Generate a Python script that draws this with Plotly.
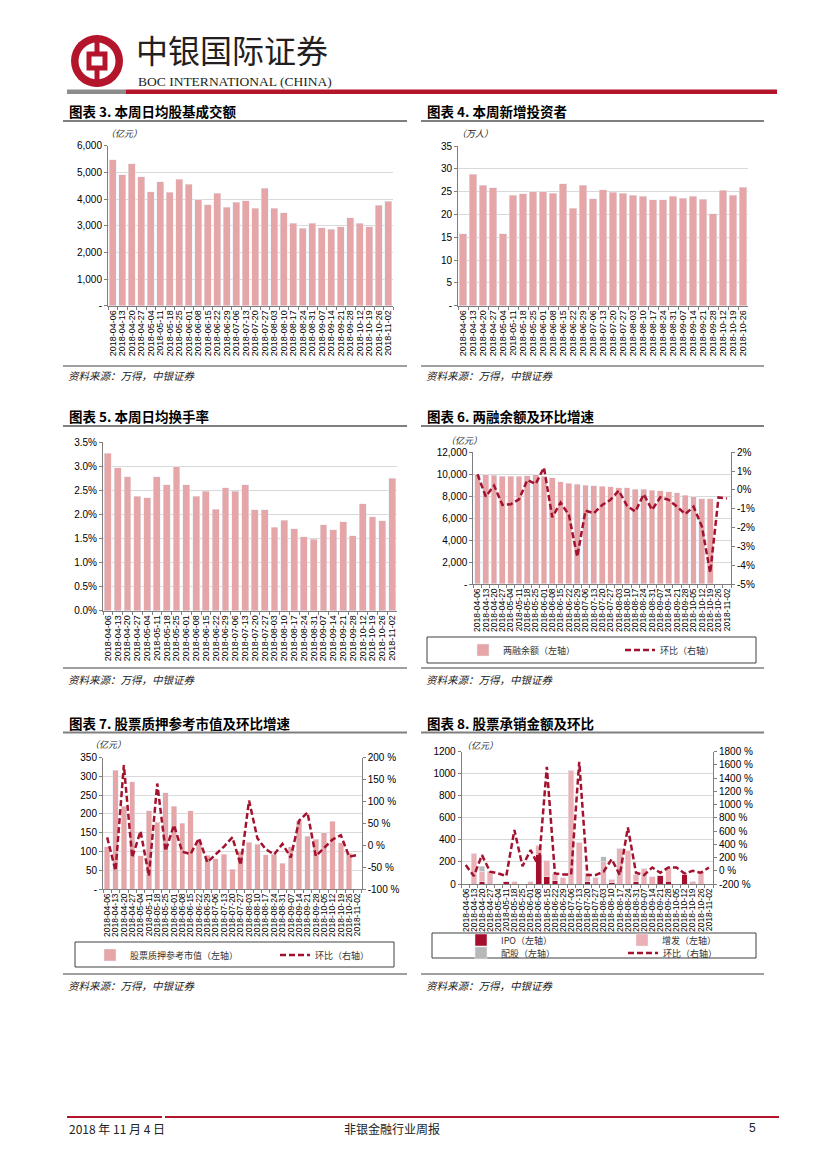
import plotly.graph_objects as go

OFF = 8  # page body margin of the browser
W, H = 827 - OFF, 1169 - OFF
def X(p): return (p - OFF) / W
def Y(p): return 1 - (p - OFF) / H

PINK = '#E6A6A8'
RED = '#A3122F'
IPO_C = '#A50F2D'
SEO_C = '#EBB1B4'
RIGHTS_C = '#B8B8B8'
GRID = '#D9D9D9'
AXIS = '#7F7F7F'
NUM = 'Liberation Sans, Arial, sans-serif'
CJK = 'Noto Sans CJK SC, sans-serif'

# ---------------- data ----------------
dates_30 = ['2018-04-06', '2018-04-13', '2018-04-20', '2018-04-27', '2018-05-04', '2018-05-11',
            '2018-05-18', '2018-05-25', '2018-06-01', '2018-06-08', '2018-06-15', '2018-06-22',
            '2018-06-29', '2018-07-06', '2018-07-13', '2018-07-20', '2018-07-27', '2018-08-03',
            '2018-08-10', '2018-08-17', '2018-08-24', '2018-08-31', '2018-09-07', '2018-09-14',
            '2018-09-21', '2018-09-28', '2018-10-12', '2018-10-19', '2018-10-26', '2018-11-02']
dates_29 = dates_30[:-1]
dates_31 = dates_30[:26] + ['2018-10-05'] + dates_30[26:]

# chart 3: daily avg turnover (亿元)
turnover_amt = [5480, 4920, 5320, 4830, 4280, 4650, 4250, 4750, 4560, 3980, 3790, 4220, 3700, 3880, 3940,
                3650, 4400, 3650, 3480, 3100, 2900, 3100, 2930, 2860, 2960, 3300, 3100, 2970, 3760, 3920]
# chart 4: new investors (万人)
new_investors = [15.8, 28.8, 26.4, 25.8, 15.8, 24.2, 24.5, 25.0, 25.0, 24.7, 26.7, 21.4, 26.4, 23.4, 25.4,
                 24.9, 24.7, 24.2, 24.0, 23.2, 23.2, 24.0, 23.6, 24.0, 23.3, 20.1, 25.3, 24.2, 26.0]
# chart 5: turnover rate (%)
turnover_rate = [3.27, 2.97, 2.78, 2.37, 2.34, 2.78, 2.61, 2.99, 2.61, 2.37, 2.48, 2.11, 2.55, 2.48, 2.61,
                 2.09, 2.09, 1.73, 1.88, 1.70, 1.53, 1.48, 1.78, 1.68, 1.85, 1.56, 2.22, 1.95, 1.87, 2.75]
# chart 6: margin balance (亿元) and qoq (%)
margin_bal = [9950, 9960, 9900, 9820, 9820, 9800, 9850, 9950, 9820, 9700, 9330, 9200, 9070, 9000, 8940,
              8900, 8850, 8790, 8790, 8640, 8640, 8560, 8480, 8400, 8330, 8100, 7950, 7760, 7760, None, None]
margin_qoq = [0.83, -0.35, 0.23, -0.8, -0.76, -0.5, 0.53, 0.32, 1.19, -1.45, -0.67, -1.33, -3.55, -1.1, -1.24,
              -0.8, -0.53, -0.04, -0.85, -1.15, -0.23, -1.06, -0.39, -0.53, -0.89, -1.28, -0.89, -1.95, -4.4,
              -0.4, -0.45]
# chart 7: pledge reference value (亿元) and qoq (%)
pledge_val = [112, 317, 221, 286, 88, 208, 178, 257, 221, 175, 208, 130, 90, 80, 92, 53, 100, 125, 119, 91,
              93, 68, 113, 182, 141, 133, 150, 180, 123, 95, None]
pledge_qoq = [18, -58, 183, -28, 32, -70, 141, -13, 46, -15, -20, 16, -39, -21, -3, 18, -45, 102, 16, -9,
              -21, 3, -28, 56, 75, -25, -7, 13, 23, -26, -22]
# chart 8: underwriting (亿元) and qoq (%)
uw_ipo = [0, 5, 20, 5, 0, 27, 0, 0, 0, 269, 66, 30, 0, 5, 5, 20, 0, 0, 12, 0, 0, 20, 0, 0, 78, 27, 0, 82, 0, 0, 0]
uw_seo = [0, 273, 95, 107, 0, 0, 24, 0, 20, 84, 151, 67, 57, 1028, 373, 77, 60, 200, 30, 323, 302, 70, 145,
          66, 0, 124, 0, 21, 27, 103, 0]
uw_rights = [0, 0, 45, 0, 0, 0, 0, 0, 0, 0, 0, 0, 0, 0, 0, 0, 0, 48, 0, 0, 0, 0, 0, 0, 0, 0, 0, 0, 0, 0, 0]
uw_qoq = [86, -80, 237, -15, -40, -80, 615, 70, 312, 70, 1572, -40, -55, -55, 1648, -65, -65, -15, 176, -65,
          655, -30, -65, 50, -30, 50, 50, -40, 0, -30, 50]

# ticks
t3_vals = [0, 1000, 2000, 3000, 4000, 5000, 6000]
t3_text = ['-', '1,000', '2,000', '3,000', '4,000', '5,000', '6,000']
t4_vals = [0, 5, 10, 15, 20, 25, 30, 35]
t4_text = ['-', '5', '10', '15', '20', '25', '30', '35']
t5_vals = [0, 0.5, 1, 1.5, 2, 2.5, 3, 3.5]
t5_text = ['0.0%', '0.5%', '1.0%', '1.5%', '2.0%', '2.5%', '3.0%', '3.5%']
t6_vals = [0, 2000, 4000, 6000, 8000, 10000, 12000]
t6_text = ['-', '2,000', '4,000', '6,000', '8,000', '10,000', '12,000']
t6r_vals = [-5, -4, -3, -2, -1, 0, 1, 2]
t6r_text = ['-5%', '-4%', '-3%', '-2%', '-1%', '0%', '1%', '2%']
t7_vals = [0, 50, 100, 150, 200, 250, 300, 350]
t7_text = ['-', '50', '100', '150', '200', '250', '300', '350']
t7r_vals = [-100, -50, 0, 50, 100, 150, 200]
t7r_text = ['-100 %', '-50 %', '0 %', '50 %', '100 %', '150 %', '200 %']
t8_vals = [0, 200, 400, 600, 800, 1000, 1200]
t8_text = ['0', '200', '400', '600', '800', '1000', '1200']
t8r_vals = [-200, 0, 200, 400, 600, 800, 1000, 1200, 1400, 1600, 1800]
t8r_text = ['-200 %', '0 %', '200 %', '400 %', '600 %', '800 %', '1000 %', '1200 %', '1400 %', '1600 %', '1800 %']

fig = go.Figure()
layout = {}


def xaxis(name, x0, x1, anchor, cats, fs=9):
    layout[name] = dict(domain=[X(x0), X(x1)], anchor=anchor, type='category',
                        tickmode='array', tickvals=cats, ticktext=cats, tickangle=-90,
                        tickfont=dict(family=NUM, size=fs, color='#000'),
                        showline=True, linecolor=AXIS, linewidth=1, ticks='outside', ticklen=3,
                        tickcolor=AXIS, tickson='boundaries', showgrid=False, zeroline=False,
                        range=[-0.5, len(cats) - 0.5], fixedrange=True, automargin=False)


def yaxis(name, y_top, y_bot, anchor, rng, vals, text, side='left', overlay=None, grid=True):
    d = dict(domain=[Y(y_bot), Y(y_top)], anchor=anchor, range=rng, tickmode='array',
             tickvals=vals, ticktext=text, tickfont=dict(family=NUM, size=10, color='#000'),
             showline=True, linecolor=AXIS, linewidth=1, ticks='outside', ticklen=3, tickcolor=AXIS,
             showgrid=grid, gridcolor=GRID, gridwidth=1, zeroline=False, side=side, fixedrange=True,
             automargin=False)
    if overlay:
        d['overlaying'] = overlay
        d['showgrid'] = False
    layout[name] = d


dash = '6px,3px'

# chart 3
xaxis('xaxis', 108, 393, 'y', dates_30)
yaxis('yaxis', 145.7, 305.7, 'x', [0, 6000], t3_vals, t3_text)
fig.add_trace(go.Bar(x=dates_30, y=turnover_amt, marker_color=PINK, width=0.7, showlegend=False,
                     xaxis='x', yaxis='y'))
# chart 4
xaxis('xaxis2', 458, 748, 'y2', dates_29)
yaxis('yaxis2', 146, 305.7, 'x2', [0, 35], t4_vals, t4_text)
fig.add_trace(go.Bar(x=dates_29, y=new_investors, marker_color=PINK, width=0.75, showlegend=False,
                     xaxis='x2', yaxis='y2'))
# chart 5
xaxis('xaxis3', 103, 397, 'y3', dates_30)
yaxis('yaxis3', 442, 610.7, 'x3', [0, 3.5], t5_vals, t5_text)
fig.add_trace(go.Bar(x=dates_30, y=turnover_rate, marker_color=PINK, width=0.7, showlegend=False,
                     xaxis='x3', yaxis='y3'))
# chart 6
xaxis('xaxis4', 473.3, 731, 'y4', dates_31, fs=8.5)
yaxis('yaxis4', 452.3, 584, 'x4', [0, 12000], t6_vals, t6_text)
yaxis('yaxis5', 452.3, 584, 'x4', [-5, 2], t6r_vals, t6r_text, side='right', overlay='y4')
fig.add_trace(go.Bar(x=dates_31, y=margin_bal, marker_color=PINK, width=0.7, name='两融余额（左轴）',
                     xaxis='x4', yaxis='y4', legend='legend'))
fig.add_trace(go.Scatter(x=dates_31, y=margin_qoq, mode='lines', name='环比（右轴）',
                         line=dict(color=RED, width=2.5, dash=dash), xaxis='x4', yaxis='y5', legend='legend2'))
# chart 7
xaxis('xaxis5', 103, 361.7, 'y6', dates_31, fs=8.5)
yaxis('yaxis6', 757.7, 889, 'x5', [0, 350], t7_vals, t7_text)
yaxis('yaxis7', 757.7, 889, 'x5', [-100, 200], t7r_vals, t7r_text, side='right', overlay='y6')
fig.add_trace(go.Bar(x=dates_31, y=pledge_val, marker_color=PINK, width=0.65, name='股票质押参考市值（左轴）',
                     xaxis='x5', yaxis='y6', legend='legend3'))
fig.add_trace(go.Scatter(x=dates_31, y=pledge_qoq, mode='lines', name='环比（右轴）',
                         line=dict(color=RED, width=2.5, dash=dash), xaxis='x5', yaxis='y7', legend='legend4'))
# chart 8
xaxis('xaxis6', 461.7, 713, 'y8', dates_31, fs=8.5)
yaxis('yaxis8', 751.7, 884, 'x6', [0, 1200], t8_vals, t8_text)
yaxis('yaxis9', 751.7, 884, 'x6', [-200, 1800], t8r_vals, t8r_text, side='right', overlay='y8')
fig.add_trace(go.Bar(x=dates_31, y=uw_ipo, marker_color=IPO_C, width=0.7, name='IPO（左轴）',
                     xaxis='x6', yaxis='y8', legend='legend5'))
fig.add_trace(go.Bar(x=dates_31, y=uw_seo, marker_color=SEO_C, width=0.7, name='增发（左轴）',
                     xaxis='x6', yaxis='y8', legend='legend6'))
fig.add_trace(go.Bar(x=dates_31, y=uw_rights, marker_color=RIGHTS_C, width=0.7, name='配股（左轴）',
                     xaxis='x6', yaxis='y8', legend='legend7'))
fig.add_trace(go.Scatter(x=dates_31, y=uw_qoq, mode='lines', name='环比（右轴）',
                         line=dict(color=RED, width=2.5, dash=dash), xaxis='x6', yaxis='y9', legend='legend8'))


def leg(x, y):
    return dict(x=X(x), y=Y(y), xanchor='left', yanchor='middle', orientation='h',
                itemwidth=30, font=dict(family=CJK, size=9, color='#333'), bgcolor='rgba(0,0,0,0)',
                borderwidth=0, tracegroupgap=0, traceorder='normal', itemclick=False,
                itemdoubleclick=False)


layout['legend'] = leg(463, 650)
layout['legend2'] = leg(620, 650)
layout['legend3'] = leg(90, 955)
layout['legend4'] = leg(275, 955)
layout['legend5'] = leg(461, 940)
layout['legend6'] = leg(622, 940)
layout['legend7'] = leg(461, 953)
layout['legend8'] = leg(623, 953)

shapes = []
ann = []


def rect(x0, y0, x1, y1, fill=None, line=None, lw=1):
    shapes.append(dict(type='rect', xref='paper', yref='paper', x0=X(x0), x1=X(x1), y0=Y(y1), y1=Y(y0),
                       fillcolor=fill if fill else 'rgba(0,0,0,0)',
                       line=dict(color=line if line else 'rgba(0,0,0,0)', width=lw if line else 0),
                       layer='above'))


def hline(x0, x1, y, color, w):
    shapes.append(dict(type='line', xref='paper', yref='paper', x0=X(x0), x1=X(x1), y0=Y(y), y1=Y(y),
                       line=dict(color=color, width=w)))


def text(x, y, s, size, family=CJK, color='#000', xanchor='left', italic=False):
    if italic:
        s = '<i>' + s + '</i>'
    ann.append(dict(x=X(x), y=Y(y), xref='paper', yref='paper', text=s, showarrow=False,
                    xanchor=xanchor, yanchor='middle', font=dict(family=family, size=size, color=color)))


# header logo
HRED = '#B5152B'
def circle(cx, cy, r, fill):
    shapes.append(dict(type='circle', xref='paper', yref='paper', x0=X(cx - r), x1=X(cx + r),
                       y0=Y(cy + r), y1=Y(cy - r), fillcolor=fill, line=dict(width=0)))

circle(97, 61, 26, HRED)
circle(97, 61, 18.5, 'white')
rect(94.5, 35.5, 99.5, 86.5, fill=HRED)
rect(86.5, 51.5, 107.5, 70.5, fill=HRED)
rect(91.5, 56.5, 102.5, 65.5, fill='white')
text(134, 49, '中银国际证券', 32, color='#231F20')
text(136, 81.5, 'BOC INTERNATIONAL (CHINA)', 13.5, family='Liberation Serif, Times New Roman, serif',
     color='#231F20')
rect(67, 89.5, 126, 94, fill='#8C8C8C')
rect(126, 89.5, 777, 94, fill=HRED)

# titles
titles = [(67, 111, '图表 3. 本周日均股基成交额'), (425, 111, '图表 4. 本周新增投资者'),
          (67, 416, '图表 5. 本周日均换手率'), (425, 416, '图表 6. 两融余额及环比增速'),
          (67, 723, '图表 7. 股票质押参考市值及环比增速'), (425, 723, '图表 8. 股票承销金额及环比')]
for x, y, s in titles:
    text(x, y, '<b>' + s + '</b>', 13.5)
for y in (121, 426, 732.5):
    hline(63, 407, y, '#7F7F7F', 2)
    hline(421, 764, y, '#7F7F7F', 2)
for y, ty in ((366, 376), (668, 679), (974, 985)):
    hline(63, 407, y, '#404040', 1)
    hline(421, 764, y, '#404040', 1)
    text(66, ty, '资料来源：万得，中银证券', 10.5, color='#222', italic=True)
    text(424, ty, '资料来源：万得，中银证券', 10.5, color='#222', italic=True)

# units
text(104, 134, '（亿元）', 9, color='#222', italic=True)
text(455, 134, '（万人）', 9, color='#222', italic=True)
text(444, 440, '（亿元）', 9, color='#222', italic=True)
text(88, 744, '（亿元）', 9, color='#222', italic=True)
text(460, 745, '（亿元）', 9, color='#222', italic=True)

# legend boxes
rect(427, 637, 756, 663, line='#404040', lw=1)
rect(75, 942, 394, 967, line='#404040', lw=1)
rect(432, 933, 756, 958, line='#404040', lw=1)

# footer
hline(67, 162, 1117, HRED, 2)
hline(165, 779, 1117, HRED, 2)
text(67, 1128, '2018 年 11 月 4 日', 12, color='#222')
text(392, 1128, '非银金融行业周报', 12, color='#222', xanchor='center')
text(752, 1128, '5', 12, family=NUM, color='#222', xanchor='center')

layout.update(dict(width=W, height=H, margin=dict(l=0, r=0, t=0, b=0, autoexpand=False),
                   paper_bgcolor='white', plot_bgcolor='rgba(0,0,0,0)', barmode='stack',
                   shapes=shapes, annotations=ann, showlegend=True, font=dict(family=NUM)))
fig.update_layout(**layout)
fig.write_html('out.html', config={'displayModeBar': False})
